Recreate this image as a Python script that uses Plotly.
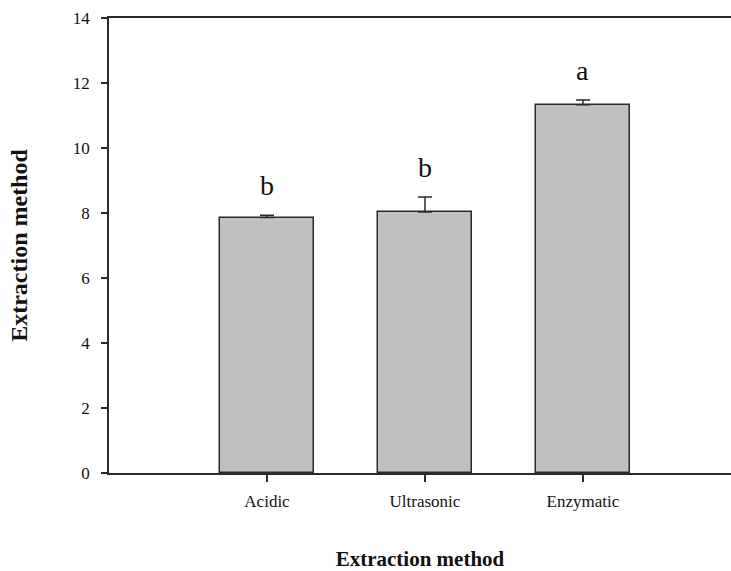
import plotly.graph_objects as go

categories = ["Acidic", "Ultrasonic", "Enzymatic"]
values = [7.86, 8.03, 11.33]
errors = [0.07, 0.46, 0.15]
letters = ["b", "b", "a"]
y_ticks = [0, 2, 4, 6, 8, 10, 12, 14]

xpos = list(range(len(categories)))
axis_col = "#2a2a2a"
serif = "Liberation Serif"

fig = go.Figure()
fig.add_trace(go.Bar(
    x=xpos, y=values, width=0.6,
    marker=dict(color="#c0c0c0", line=dict(color=axis_col, width=1.5)),
    error_y=dict(type="data", array=errors, arrayminus=[0] * len(errors),
                 symmetric=False, color=axis_col, thickness=1.5, width=7),
    showlegend=False,
))

for x, v, e, t in zip(xpos, values, errors, letters):
    fig.add_annotation(x=x, y=v + e, text=t, showarrow=False, yanchor="bottom",
                       yshift=12, font=dict(family=serif, size=28, color="#111111"))

fig.update_layout(
    width=731, height=571,
    margin=dict(l=109, r=0, t=18, b=98),
    paper_bgcolor="white", plot_bgcolor="white",
    font=dict(family=serif, color="#111111"),
    bargap=0,
)
fig.update_xaxes(
    range=[-1, 2.937], tickmode="array", tickvals=xpos, ticktext=categories,
    ticks="outside", ticklen=7, tickwidth=1.5, tickcolor=axis_col,
    showline=True, linecolor=axis_col, linewidth=1.5, mirror=True,
    showgrid=False, zeroline=False, tickfont=dict(size=17),
    ticklabelstandoff=5, automargin=False,
    title=dict(text="<b>Extraction method</b>", font=dict(size=21), standoff=54),
)
fig.update_yaxes(
    range=[0, 14], tickmode="array", tickvals=y_ticks,
    ticks="outside", ticklen=6, tickwidth=1.5, tickcolor=axis_col,
    showline=True, linecolor=axis_col, linewidth=1.5,
    showgrid=False, zeroline=False, tickfont=dict(size=17),
    ticklabelstandoff=8, automargin=False,
    title=dict(text="<b>Extraction method</b>", font=dict(size=24), standoff=38),
)

fig.write_html("out.html", config={"displayModeBar": False},
               post_script="document.body.style.margin='0px';")
